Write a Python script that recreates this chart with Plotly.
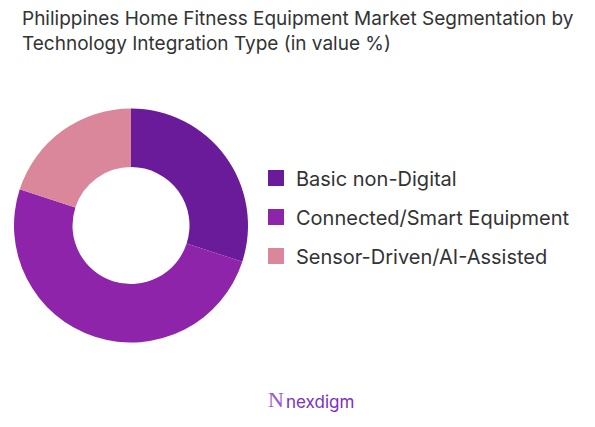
import plotly.graph_objects as go

labels = ["Basic non-Digital", "Connected/Smart Equipment", "Sensor-Driven/AI-Assisted"]
values = [30, 50, 20]
colors = ["#6a1b9a", "#8e24aa", "#db879b"]

TITLE = "Philippines Home Fitness Equipment Market Segmentation by<br>Technology Integration Type (in value %)"
FONT = "Inter"

fig = go.Figure()
fig.add_trace(go.Pie(
    labels=labels,
    values=values,
    hole=0.5,
    sort=False,
    direction="clockwise",
    rotation=0,
    marker=dict(colors=colors, line=dict(width=0)),
    textinfo="none",
    showlegend=False,
    domain=dict(x=[6 / 595, 240 / 595], y=[1 - 335 / 427, 1 - 100 / 427]),
))

# legend entries, one group each so tracegroupgap spaces them out
for lab, col in zip(labels, colors):
    fig.add_trace(go.Scatter(
        x=[None], y=[None], mode="markers", name=lab, legendgroup=lab,
        marker=dict(symbol="square", size=16, color=col),
    ))

fig.update_layout(
    width=595, height=427,
    paper_bgcolor="white", plot_bgcolor="white",
    margin=dict(l=0, r=0, t=0, b=0),
    font=dict(family=FONT, color="#333333"),
    title=dict(text=TITLE, x=14 / 595, xanchor="left", y=1 - 17 / 427, yanchor="top",
               font=dict(size=19, color="#333333", family=FONT)),
    xaxis=dict(visible=False), yaxis=dict(visible=False),
    legend=dict(x=248 / 595, xanchor="left", y=1 - 209 / 427, yanchor="middle",
                traceorder="grouped", tracegroupgap=10,
                font=dict(size=20, color="#333333", family=FONT),
                bgcolor="rgba(0,0,0,0)"),
)

fig.add_annotation(text="N", x=268 / 595, y=1 - 406 / 427, xref="paper", yref="paper",
                   showarrow=False, font=dict(size=22, color="#9b59d0", family="DejaVu Sans ExtraLight"))
fig.add_annotation(text="nexdigm", x=312 / 595, y=1 - 406 / 427, xref="paper", yref="paper",
                   showarrow=False, font=dict(size=17, color="#7b2fbe", family=FONT))

fig.write_html("out.html")
